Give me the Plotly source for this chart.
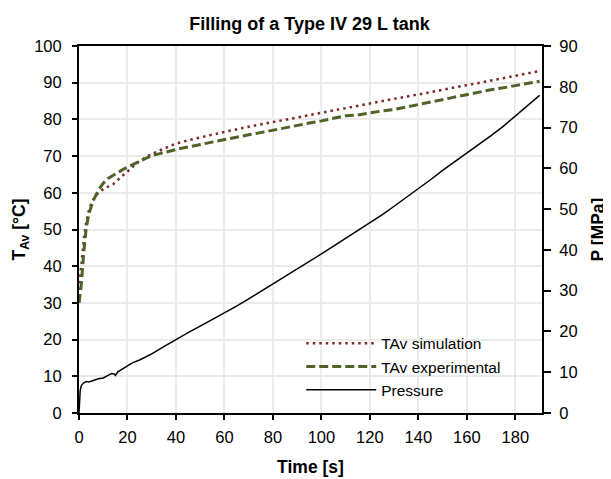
import plotly.graph_objects as go

# ---- data ----
t_sim = [0, 0.3, 0.6, 1, 1.5, 2, 3, 4, 5, 6, 8, 10, 12, 14, 16, 18, 20, 22, 25, 30, 35, 40, 45,
         50, 55, 60, 70, 80, 90, 100, 110, 120, 130, 140, 150, 160, 170, 180, 190]
T_sim = [30, 35, 38, 40.5, 44.5, 47.5, 52, 55, 57, 58.3, 60, 61, 61.7, 62.3, 63.5, 64.7, 65.8, 67,
         68.7, 70.6, 72, 73.4, 74.3, 75.1, 75.9, 76.6, 78, 79.3, 80.5, 81.7, 83, 84.3, 85.6, 86.8,
         88, 89.3, 90.6, 91.9, 93.2]

t_exp = [0, 0.3, 0.6, 1, 1.5, 2, 3, 4, 5, 6, 8, 10, 12, 14, 16, 18, 20, 22, 25, 30, 35, 40, 45,
         50, 55, 60, 65, 70, 75, 80, 85, 90, 95, 100, 105, 110, 115, 120, 125, 130, 135, 140,
         145, 150, 155, 160, 165, 170, 175, 180, 185, 190]
T_exp = [30, 31, 33, 35.3, 40, 44, 50.5, 54, 56.2, 58, 60.7, 62.6, 63.9, 64.8, 65.5, 66.3, 67,
         67.7, 68.6, 70.1, 71, 71.8, 72.5, 73.2, 73.8, 74.5, 75.1, 75.8, 76.4, 77.1, 77.6, 78.4,
         79, 79.6, 80.3, 81, 81.2, 81.8, 82.3, 82.7, 83.4, 84, 84.6, 85.3, 86, 86.8, 87.5, 88.1,
         88.6, 89.2, 89.8, 90.4]

t_p = [0, 0.2, 0.5, 1, 2, 3, 4, 5, 6, 8, 10, 12, 13.5, 14.5, 15, 16, 18, 20, 22, 25, 30, 35, 40,
       45, 50, 55, 60, 65, 70, 75, 80, 85, 90, 95, 100, 105, 110, 115, 120, 125, 130, 135, 140,
       145, 150, 155, 160, 165, 170, 175, 180, 185, 190]
P = [0, 3, 5.5, 6.8, 7.4, 7.7, 7.6, 7.8, 8.0, 8.4, 8.6, 9.2, 9.7, 9.6, 9.2, 10.1, 10.8, 11.5,
     12.3, 13.0, 14.5, 16.3, 18.1, 19.7, 21.3, 22.9, 24.4, 26.2, 28.0, 29.8, 31.7, 33.5, 35.3,
     37.2, 39.0, 40.9, 42.8, 44.7, 46.6, 48.6, 50.7, 52.8, 54.9, 57.2, 59.5, 61.6, 63.7, 65.8,
     68.0, 70.3, 72.8, 75.3, 77.9]

x_ticks = list(range(0, 181, 20))
y1_ticks = list(range(0, 101, 10))
y2_ticks = list(range(0, 91, 10))

FONT = "Liberation Sans, Arial, sans-serif"
W, H = 603, 471  # page body adds an 8px offset

fig = go.Figure()
fig.add_trace(go.Scatter(x=t_sim, y=T_sim, mode="lines", name="TAv simulation",
                         line=dict(color="#7a2a2a", width=2.5, dash="2.5px,4px")))
fig.add_trace(go.Scatter(x=t_exp, y=T_exp, mode="lines", name="TAv experimental",
                         line=dict(color="#4f6228", width=3, dash="9px,4px")))
fig.add_trace(go.Scatter(x=t_p, y=P, mode="lines", name="Pressure", yaxis="y2",
                         line=dict(color="black", width=1.5)))

fig.update_layout(
    width=W, height=H,
    margin=dict(l=71, r=69, t=38, b=66),
    paper_bgcolor="white", plot_bgcolor="white",
    font=dict(family=FONT, size=16.5, color="black"),
    title=dict(text="<b>Filling of a Type IV 29 L tank</b>", x=0.5, xanchor="center",
               y=1 - 16 / H, yanchor="middle", font=dict(size=18, family=FONT)),
    xaxis=dict(range=[0, 191], tickvals=x_ticks, showgrid=True, gridcolor="#ebebeb",
               gridwidth=1.5, showline=True, linecolor="black", linewidth=2, mirror=True,
               ticks="outside", ticklen=5, tickwidth=1.5, tickcolor="black", zeroline=False,
               ticklabelstandoff=3, automargin=False,
               title=dict(text="<b>Time [s]</b>", font=dict(size=17.5), standoff=16)),
    yaxis=dict(range=[0, 100], tickvals=y1_ticks, showgrid=True, gridcolor="#ebebeb",
               gridwidth=1.5, showline=True, linecolor="black", linewidth=2,
               ticks="outside", ticklen=5, tickwidth=1.5, tickcolor="black", zeroline=False,
               ticklabelstandoff=7, automargin=False,
               title=dict(text="<b>T<sub>Av</sub> [°C]</b>", font=dict(size=17.5), standoff=4)),
    yaxis2=dict(range=[0, 90], tickvals=y2_ticks, overlaying="y", side="right",
                showgrid=False, showline=True, linecolor="black", linewidth=2,
                ticks="outside", ticklen=7, tickwidth=1.5, tickcolor="black", zeroline=False,
                ticklabelstandoff=5, automargin=False,
                title=dict(text="<b>P [MPa]</b>", font=dict(size=17.5), standoff=15)),
    legend=dict(x=0.48, y=0.017, xanchor="left", yanchor="bottom", bgcolor="rgba(0,0,0,0)",
                font=dict(size=15.5), itemwidth=70, tracegroupgap=0),
    showlegend=True,
)

fig.write_html("out.html")
